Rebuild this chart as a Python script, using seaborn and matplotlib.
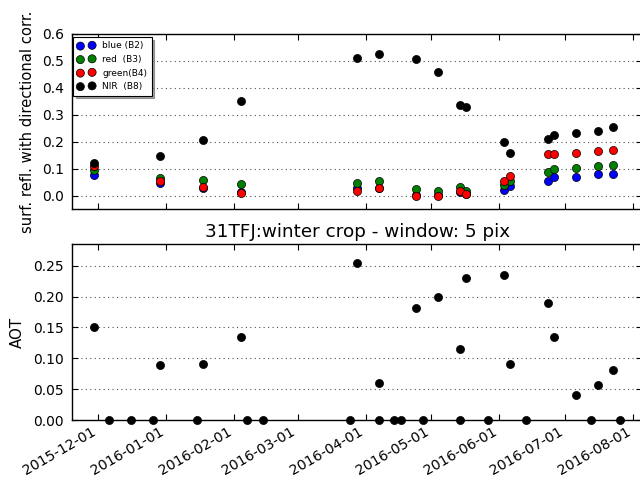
import pandas as pd
import numpy as np
import matplotlib
matplotlib.use("Agg")
import matplotlib.pyplot as plt
import matplotlib.dates as mdates
import seaborn as sns

# === data ===
refl_dates = ['2015-11-29', '2015-12-29', '2016-01-18', '2016-02-04', '2016-03-28',
              '2016-04-07', '2016-04-24', '2016-05-04', '2016-05-14', '2016-05-17',
              '2016-06-03', '2016-06-06', '2016-06-23', '2016-06-26', '2016-07-06',
              '2016-07-16', '2016-07-23']
blue_b2 = [0.076, 0.047, 0.030, 0.014, 0.028, 0.030, 0.004, 0.003, 0.013, 0.005,
           0.020, 0.037, 0.054, 0.069, 0.071, 0.079, 0.082]
red_b3 = [0.094, 0.065, 0.059, 0.044, 0.048, 0.054, 0.024, 0.016, 0.031, 0.017,
          0.040, 0.056, 0.087, 0.099, 0.102, 0.110, 0.116]
green_b4 = [0.109, 0.054, 0.031, 0.010, 0.019, 0.028, 0.000, 0.000, 0.019, 0.005,
            0.055, 0.075, 0.154, 0.154, 0.157, 0.165, 0.171]
nir_b8 = [0.120, 0.147, 0.206, 0.353, 0.510, 0.527, 0.508, 0.460, 0.337, 0.328,
          0.198, 0.160, 0.212, 0.224, 0.234, 0.240, 0.254]

aot_dates = ['2015-11-29', '2015-12-06', '2015-12-16', '2015-12-26', '2015-12-29',
             '2016-01-15', '2016-01-18', '2016-02-04', '2016-02-07', '2016-02-14',
             '2016-03-25', '2016-03-28', '2016-04-07', '2016-04-07', '2016-04-14',
             '2016-04-17', '2016-04-24', '2016-04-27', '2016-05-04', '2016-05-14',
             '2016-05-14', '2016-05-17', '2016-05-27', '2016-06-03', '2016-06-06',
             '2016-06-13', '2016-06-23', '2016-06-26', '2016-07-06', '2016-07-13',
             '2016-07-16', '2016-07-23', '2016-07-26']
aot = [0.150, 0.0, 0.0, 0.0, 0.089, 0.0, 0.090, 0.135, 0.0, 0.0,
       0.0, 0.255, 0.060, 0.0, 0.0, 0.0, 0.181, 0.0, 0.200, 0.115,
       0.0, 0.230, 0.0, 0.235, 0.090, 0.0, 0.189, 0.135, 0.040, 0.0,
       0.056, 0.081, 0.0]

bands = [('blue (B2)', blue_b2, 'blue'),
         ('red  (B3)', red_b3, 'green'),
         ('green(B4)', green_b4, 'red'),
         ('NIR  (B8)', nir_b8, 'black')]

sns.set_theme(style='white', rc={
    'xtick.direction': 'in', 'ytick.direction': 'in',
    'xtick.top': True, 'ytick.right': True,
    'xtick.bottom': True, 'ytick.left': True,
    'xtick.major.size': 4, 'ytick.major.size': 4,
    'xtick.major.width': 0.8, 'ytick.major.width': 0.8,
    'xtick.major.pad': 3.5, 'ytick.major.pad': 6,
    'xtick.color': 'black', 'ytick.color': 'black',
    'axes.edgecolor': 'black', 'axes.linewidth': 1.0,
    'axes.labelcolor': 'black', 'text.color': 'black',
})
plt.rcParams['font.family'] = ['DejaVu Sans']

grid_kw = dict(axis='y', linestyle=(0, (1, 3)), color='0.3', linewidth=0.8)

fig = plt.figure(figsize=(6.4, 4.82), dpi=100)
ax1 = fig.add_axes([0.1125, 0.5658, 0.891, 0.3637])
ax2 = fig.add_axes([0.1125, 0.1286, 0.891, 0.3651], sharex=ax1)

# top: reflectances
for label, vals, col in bands:
    d = pd.DataFrame({'date': pd.to_datetime(refl_dates), 'refl': vals})
    sns.scatterplot(data=d, x='date', y='refl', ax=ax1, color=col, s=34,
                    edgecolor='black', linewidth=0.5, label=label, zorder=3)

leg = ax1.legend(loc='upper left', bbox_to_anchor=(0.002, 0.983),
                 scatterpoints=2, fontsize=6.5, shadow=True,
                 fancybox=False, frameon=True, borderaxespad=0.0,
                 handletextpad=0.8, labelspacing=0.5, borderpad=0.5,
                 handlelength=1.9)
leg.get_frame().set_edgecolor('black')
leg.get_frame().set_linewidth(0.8)

ax1.set_ylim(-0.05, 0.6)
ax1.set_yticks(np.arange(0, 0.61, 0.1))
ax1.set_yticklabels([f'{v:.1f}' for v in np.arange(0, 0.61, 0.1)])
ax1.set_ylabel('surf. refl. with directional corr.', fontsize=10.6, labelpad=5)
ax1.set_xlabel('')
ax1.grid(**grid_kw)
ax1.tick_params(labelbottom=False, labelsize=10)

# bottom: AOT
d2 = pd.DataFrame({'date': pd.to_datetime(aot_dates), 'aot': aot})
sns.scatterplot(data=d2, x='date', y='aot', ax=ax2, color='black', s=34,
                edgecolor='black', linewidth=0.5, zorder=3, clip_on=False)
ax2.set_ylim(0, 0.285)
ax2.set_yticks(np.arange(0, 0.26, 0.05))
ax2.yaxis.set_major_formatter(matplotlib.ticker.FormatStrFormatter('%.2f'))
ax2.set_ylabel('AOT', fontsize=10.8, labelpad=6)
ax2.set_xlabel('')
ax2.set_title('31TFJ:winter crop - window: 5 pix', fontsize=13.2, pad=5)
ax2.grid(**grid_kw)
ax2.tick_params(axis='y', labelsize=10)
ax2.tick_params(axis='x', labelsize=10.2)

ax2.xaxis.set_major_locator(mdates.MonthLocator())
ax2.xaxis.set_major_formatter(mdates.DateFormatter('%Y-%m-%d'))
ax2.set_xlim(pd.Timestamp('2015-11-19 02:00'), pd.Timestamp('2016-08-05 05:00'))
for lab in ax2.get_xticklabels():
    lab.set_rotation(30)
    lab.set_ha('right')

fig.savefig('out.png', dpi=100)
